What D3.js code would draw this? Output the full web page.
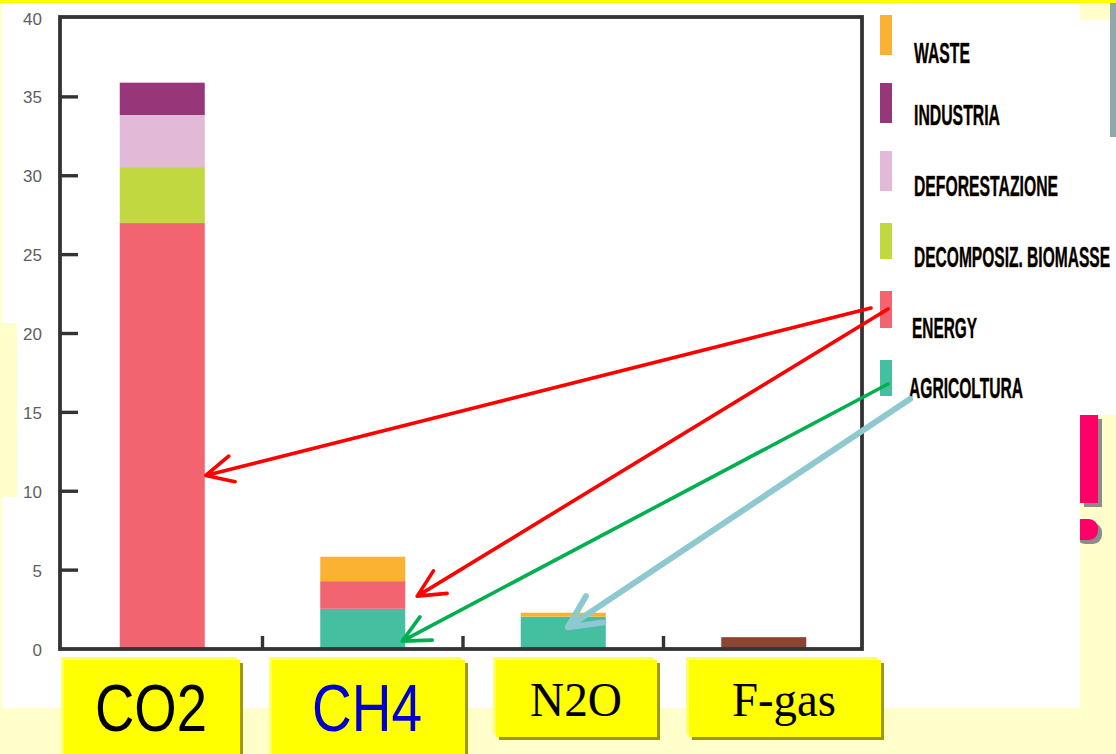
<!DOCTYPE html>
<html>
<head>
<meta charset="utf-8">
<style>
  html, body { margin: 0; padding: 0; background: #ffffcc; overflow: hidden; }
  svg { display: block; }
</style>
<script src="https://cdn.jsdelivr.net/npm/d3@7.9.0/dist/d3.min.js"></script>
</head>
<body>
<div id="chart"></div>
<script>
// values (Gt CO2-eq per gas, by sector)
const gases = ['CO2', 'CH4', 'N2O', 'F-gas'];
const agricoltura = [0, 2.55, 2.05, 0];
const energy = [27, 1.75, 0, 0];
const biomasse = [3.55, 0, 0, 0];
const deforestazione = [3.3, 0, 0, 0];
const industria = [2.05, 0, 0, 0];
const waste = [0, 1.55, 0.25, 0];
const fgas = [0, 0, 0, 0.75];

const yTickValues = [0, 5, 10, 15, 20, 25, 30, 35, 40];

const legendKeys = ['waste', 'industria', 'deforestazione', 'biomasse', 'energy', 'agricoltura'];
const legendLabels = ['WASTE', 'INDUSTRIA', 'DEFORESTAZIONE', 'DECOMPOSIZ. BIOMASSE', 'ENERGY', 'AGRICOLTURA'];

const gasLabels = ['CO2', 'CH4', 'N2O', 'F-gas'];

// stacking order, bottom to top
const sectors = ['agricoltura', 'energy', 'biomasse', 'deforestazione', 'industria', 'waste', 'fgas'];
const colors = {
  agricoltura: '#44bfa0',
  energy: '#f2646f',
  biomasse: '#c2d841',
  deforestazione: '#e2bad8',
  industria: '#98367a',
  waste: '#fbb232',
  fgas: '#8b4633',
};

const table = gases.map((g, i) => ({
  gas: g,
  agricoltura: agricoltura[i],
  energy: energy[i],
  biomasse: biomasse[i],
  deforestazione: deforestazione[i],
  industria: industria[i],
  waste: waste[i],
  fgas: fgas[i],
}));

const width = 1116;
const height = 754;

const svg = d3.select('#chart')
  .append('svg')
  .attr('width', width)
  .attr('height', height)
  .attr('viewBox', `0 0 ${width} ${height}`);

// slide background
function drawBackground() {
  svg.append('rect').attr('width', width).attr('height', height).attr('fill', '#ffffcc');

  // the pink "!" sign on the right, partly hidden behind the white panel
  svg.append('rect').attr('x', 1084).attr('y', 419).attr('width', 18).attr('height', 88).attr('fill', '#8c8c8c');
  svg.append('rect').attr('x', 1080).attr('y', 415).attr('width', 18).attr('height', 88).attr('fill', '#ff0066');
  svg.append('rect').attr('x', 1076).attr('y', 523).attr('width', 26).attr('height', 21).attr('rx', 9).attr('fill', '#8c8c8c');
  svg.append('rect').attr('x', 1072).attr('y', 519).attr('width', 26).attr('height', 21).attr('rx', 9).attr('fill', '#ff0066');

  svg.append('rect').attr('x', 2).attr('y', 3).attr('width', 1078).attr('height', 705).attr('fill', '#ffffff');
  svg.append('rect').attr('x', 1080).attr('y', 20).attr('width', 36).attr('height', 395).attr('fill', '#ffffff');
  svg.append('rect').attr('x', 1110).attr('y', 3).attr('width', 6).attr('height', 134).attr('fill', '#8fa8a8');
  svg.append('rect').attr('x', 0).attr('y', 323).attr('width', 17).attr('height', 174).attr('fill', '#ffffcc');
  svg.append('rect').attr('x', 0).attr('y', 0).attr('width', width).attr('height', 3).attr('fill', '#ffff00');
}

drawBackground();

const frame = { left: 60, right: 862, top: 17, bottom: 649 };

const xScale = d3.scaleBand()
  .domain(gases)
  .range([62, 864])
  .paddingInner(0.576)
  .paddingOuter(0.288);

const yScale = d3.scaleLinear()
  .domain([0, 40])
  .range([649, 18]);

const stacked = d3.stack().keys(sectors)(table);

function renderBars() {
  svg.append('g')
    .attr('class', 'bars')
    .selectAll('g')
    .data(stacked)
    .join('g')
    .attr('fill', d => colors[d.key])
    .selectAll('rect')
    .data(d => d.filter(p => p[1] > p[0]))
    .join('rect')
    .attr('x', d => xScale(d.data.gas))
    .attr('width', xScale.bandwidth())
    .attr('y', d => yScale(d[1]))
    .attr('height', d => yScale(d[0]) - yScale(d[1]));
}

function renderAxes() {
  const axisColor = '#333333';

  // inward y ticks
  svg.append('g')
    .selectAll('line')
    .data(yTickValues.filter(v => v > 0 && v < 40))
    .join('line')
    .attr('x1', frame.left)
    .attr('x2', frame.left + 18)
    .attr('y1', d => yScale(d))
    .attr('y2', d => yScale(d))
    .attr('stroke', axisColor)
    .attr('stroke-width', 3.4);

  svg.append('g')
    .selectAll('text')
    .data(yTickValues)
    .join('text')
    .attr('x', 42)
    .attr('y', d => yScale(d) + 1)
    .attr('text-anchor', 'end')
    .attr('dominant-baseline', 'central')
    .attr('font-family', 'Liberation Sans, Arial, sans-serif')
    .attr('font-size', 17)
    .attr('fill', '#5e5e5e')
    .text(d => d);

  // x ticks on band boundaries
  svg.append('g')
    .selectAll('line')
    .data(gases.slice(0, -1))
    .join('line')
    .attr('x1', d => xScale(d) + xScale.bandwidth() / 2 + xScale.step() / 2)
    .attr('x2', d => xScale(d) + xScale.bandwidth() / 2 + xScale.step() / 2)
    .attr('y1', yScale(0))
    .attr('y2', yScale(0) - 13)
    .attr('stroke', axisColor)
    .attr('stroke-width', 3.4);

  svg.append('rect')
    .attr('x', frame.left)
    .attr('y', frame.top)
    .attr('width', frame.right - frame.left)
    .attr('height', frame.bottom - frame.top)
    .attr('fill', 'none')
    .attr('stroke', axisColor)
    .attr('stroke-width', 3.8);
}

function renderLegend() {
  const rowsY = [15, 83, 151, 223, 291, 360];
  const rowsH = [40, 40, 40, 36, 37, 36];
  const textY = [63, 125, 196, 267, 338, 398];
  const textX = [914, 914, 914, 914, 912, 909];
  const textW = [56, 86, 144, 196, 65, 114];

  const legend = svg.append('g').attr('class', 'legend');

  legend.selectAll('rect')
    .data(legendKeys)
    .join('rect')
    .attr('x', 880)
    .attr('y', (d, i) => rowsY[i])
    .attr('width', 12)
    .attr('height', (d, i) => rowsH[i])
    .attr('fill', d => colors[d]);

  // tall condensed lettering: small bold type stretched vertically
  legend.selectAll('text')
    .data(legendLabels)
    .join('text')
    .attr('transform', (d, i) => `translate(${textX[i]},${textY[i]}) scale(1,1.8)`)
    .attr('textLength', (d, i) => textW[i])
    .attr('lengthAdjust', 'spacingAndGlyphs')
    .attr('font-family', 'Liberation Sans, Arial, sans-serif')
    .attr('font-weight', 'bold')
    .attr('font-size', 16)
    .attr('fill', '#000')
    .attr('stroke', '#7a4a10')
    .attr('stroke-width', 0.3)
    .attr('paint-order', 'stroke')
    .text(d => d);
}

function renderGasLabels() {
  const boxes = [
    { x: 64, w: 176, h: 100, cx: 151, tw: 112, font: 'Liberation Sans, Arial, sans-serif', size: 66, color: '#000000', base: 731 },
    { x: 272, w: 193, h: 100, cx: 367, tw: 110, font: 'Liberation Sans, Arial, sans-serif', size: 66, color: '#0000cc', base: 731 },
    { x: 496, w: 161, h: 77, cx: 576, tw: 92, font: 'Liberation Serif, Times New Roman, serif', size: 48, color: '#000000', base: 716 },
    { x: 689, w: 192, h: 77, cx: 784, tw: 104, font: 'Liberation Serif, Times New Roman, serif', size: 48, color: '#000000', base: 716 },
  ];
  const top = 660;

  const g = svg.append('g')
    .selectAll('g')
    .data(gasLabels)
    .join('g');

  g.append('rect')
    .attr('x', (d, i) => boxes[i].x + 3)
    .attr('y', top + 3)
    .attr('width', (d, i) => boxes[i].w)
    .attr('height', (d, i) => boxes[i].h)
    .attr('fill', '#a09a00');

  g.append('rect')
    .attr('x', (d, i) => boxes[i].x - 3)
    .attr('y', top - 3)
    .attr('width', (d, i) => boxes[i].w)
    .attr('height', (d, i) => boxes[i].h)
    .attr('fill', '#ffff66');

  g.append('rect')
    .attr('x', (d, i) => boxes[i].x)
    .attr('y', top)
    .attr('width', (d, i) => boxes[i].w)
    .attr('height', (d, i) => boxes[i].h)
    .attr('fill', '#ffff00');

  g.append('text')
    .attr('x', (d, i) => boxes[i].cx - boxes[i].tw / 2)
    .attr('y', (d, i) => boxes[i].base)
    .attr('textLength', (d, i) => boxes[i].tw)
    .attr('lengthAdjust', 'spacingAndGlyphs')
    .attr('font-family', (d, i) => boxes[i].font)
    .attr('font-size', (d, i) => boxes[i].size)
    .attr('fill', (d, i) => boxes[i].color)
    .text(d => d);
}

// arrows from the legend to the bars; tips given in data space
const arrows = [
  { from: [871, 308], gas: 'CO2', value: 11.0, dx: 1, color: '#ff0000', w: 3.6, head: 30 },
  { from: [888, 309], gas: 'CH4', value: 3.35, dx: 12, color: '#ff0000', w: 3.6, head: 30 },
  { from: [888, 384], gas: 'CH4', value: 0.5, dx: -3, color: '#00b050', w: 3.6, head: 30 },
  { from: [910, 399], gas: 'N2O', value: 1.38, dx: -38, color: '#8ec8d0', w: 6, head: 36 },
];

function renderArrows() {
  const g = svg.append('g').attr('class', 'arrows')
    .attr('fill', 'none')
    .attr('stroke-linecap', 'round')
    .attr('stroke-linejoin', 'round');

  arrows.forEach(a => {
    const tx = xScale(a.gas) + xScale.bandwidth() + a.dx;
    const ty = yScale(a.value);
    const ang = Math.atan2(a.from[1] - ty, a.from[0] - tx);
    const spread = 26 * Math.PI / 180;
    const p1 = [tx + a.head * Math.cos(ang - spread), ty + a.head * Math.sin(ang - spread)];
    const p2 = [tx + a.head * Math.cos(ang + spread), ty + a.head * Math.sin(ang + spread)];

    const path = d3.path();
    path.moveTo(a.from[0], a.from[1]);
    path.lineTo(tx, ty);
    path.moveTo(p1[0], p1[1]);
    path.lineTo(tx, ty);
    path.lineTo(p2[0], p2[1]);

    g.append('path')
      .attr('d', path.toString())
      .attr('stroke', a.color)
      .attr('stroke-width', a.w);
  });
}

renderBars();
renderAxes();
renderLegend();
renderGasLabels();
renderArrows();
</script>
</body>
</html>
